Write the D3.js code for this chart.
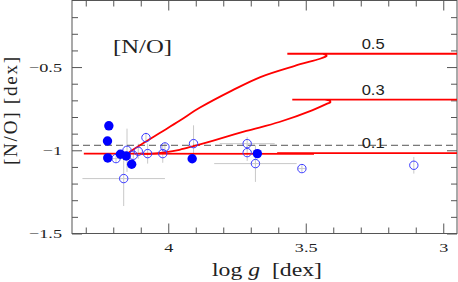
<!DOCTYPE html>
<html>
<head>
<meta charset="utf-8">
<script src="https://cdn.jsdelivr.net/npm/d3@7"></script>
<style>
body { margin: 0; background: #fff; }
svg { display: block; }
.axis path { display: none; }
.axis line { stroke: #555; }
.axis text { font-family: "Liberation Serif", serif; font-size: 13.5px; fill: #222; }
.err { stroke: #c8c8c8; stroke-width: 1; }
.track { fill: none; stroke: #ff0000; stroke-width: 1.8; }
.tlabel { font-family: "Liberation Sans", sans-serif; font-size: 14px; fill: #222; text-anchor: middle; }
.title { font-family: "Liberation Serif", serif; font-size: 19px; fill: #222; white-space: pre; }
</style>
</head>
<body>
<svg width="458" height="282"></svg>
<script>
// stars with filled symbols
var filledLogg = [4.216, 4.221, 4.22, 4.174, 4.153, 4.133, 3.913, 3.676];
var filledNO   = [-0.853, -0.944, -1.046, -1.024, -1.034, -1.084, -1.051, -1.02];

// stars with open symbols and their error bars
var openLogg    = [4.081, 4.15, 4.19, 4.127, 4.109, 4.075, 4.02, 4.012, 3.908, 4.162, 3.713, 3.713, 3.683, 3.514, 3.107];
var openNO      = [-0.924, -1.0, -1.05, -1.03, -1.006, -1.02, -1.02, -0.98, -0.96, -1.17, -0.96, -1.014, -1.08, -1.11, -1.09];
var openErrLogg = [0, 0, 0.02, 0, 0, 0, 0, 0, 0, 0.15, 0.1, 0, 0.15, 0.015, 0];
var openErrNO   = [0.03, 0.13, 0.02, 0.02, 0.045, 0.06, 0.055, 0.03, 0.11, 0.165, 0.04, 0.05, 0.11, 0.02, 0.05];

// model tracks [logg, N/O]
var track05 = [[4.147, -1.02], [4.134, -1.003], [4.086, -0.952], [4.031, -0.896], [3.959, -0.823],
  [3.886, -0.745], [3.767, -0.64], [3.665, -0.56], [3.542, -0.494], [3.448, -0.45], [3.43, -0.439],
  [3.424, -0.433], [3.437, -0.421], [3.459, -0.42], [3.567, -0.42], [2.95, -0.42]];
var track03 = [[4.104, -1.02], [4.067, -1.021], [4.013, -1.012], [3.959, -0.997], [3.904, -0.973],
  [3.839, -0.943], [3.716, -0.884], [3.596, -0.83], [3.477, -0.76], [3.422, -0.72], [3.41, -0.71],
  [3.415, -0.70], [3.43, -0.696], [3.549, -0.696], [2.95, -0.696]];
var track01 = [[4.307, -1.02], [3.47, -1.022], [3.604, -1.017], [2.95, -1.017]];
var trackNames = ["0.5", "0.3", "0.1"];
var labelLogg = 3.255;

var solarNO = -0.97;

var xMajorTicks = [4, 3.5, 3],
    xTickLabels = ["4", "3.5", "3"];
var yMajorTicks = [-0.5, -1, -1.5],
    yTickLabels = ["\u22120.5", "\u22121", "\u22121.5"];

var svg = d3.select("svg"),
    margin = {top: 0.5, right: 1, bottom: 48.5, left: 72},
    width = +svg.attr("width") - margin.left - margin.right,
    height = +svg.attr("height") - margin.top - margin.bottom;

var x = d3.scaleLinear().domain([4.35, 2.95]).range([0, width]),
    y = d3.scaleLinear().domain([-1.5, -0.1]).range([height, 0]);

var chart = svg.append("g")
    .attr("transform", "translate(" + margin.left + "," + margin.top + ")");

// the figure is stretched sideways, so are its glyphs
var stretch = 1.35;

// minor ticks every 0.1
var xMinor = d3.range(43, 29, -1).map(function(d) { return d / 10; })
    .filter(function(d) { return xMajorTicks.indexOf(d) < 0; });
var yMinor = d3.range(-14, -1).map(function(d) { return d / 10; })
    .filter(function(d) { return yMajorTicks.indexOf(d) < 0; });

// axes on all four sides, ticks pointing in
chart.append("g").attr("class", "axis")
    .attr("transform", "translate(0," + height + ")")
    .call(d3.axisBottom(x).tickValues(xMinor).tickSize(-6).tickFormat(""));
chart.append("g").attr("class", "axis")
    .attr("transform", "translate(0," + height + ")")
    .call(d3.axisBottom(x).tickValues(xMajorTicks).tickSize(-10).tickPadding(9)
      .tickFormat(function(d, i) { return xTickLabels[i]; }))
  .selectAll("text")
    .attr("transform", "scale(" + stretch + ",1)");
chart.append("g").attr("class", "axis")
    .call(d3.axisTop(x).tickValues(xMinor).tickSize(-6).tickFormat(""));
chart.append("g").attr("class", "axis")
    .call(d3.axisTop(x).tickValues(xMajorTicks).tickSize(-10).tickFormat(""));

chart.append("g").attr("class", "axis")
    .call(d3.axisLeft(y).tickValues(yMinor).tickSize(-6).tickFormat(""));
chart.append("g").attr("class", "axis")
    .call(d3.axisLeft(y).tickValues(yMajorTicks).tickSize(-10).tickPadding(10)
      .tickFormat(function(d, i) { return yTickLabels[i]; }))
  .selectAll("text")
    .attr("x", -10 / stretch)
    .attr("transform", "scale(" + stretch + ",1)");
chart.append("g").attr("class", "axis")
    .attr("transform", "translate(" + width + ",0)")
    .call(d3.axisRight(y).tickValues(yMinor).tickSize(-6).tickFormat(""));
chart.append("g").attr("class", "axis")
    .attr("transform", "translate(" + width + ",0)")
    .call(d3.axisRight(y).tickValues(yMajorTicks).tickSize(-10).tickFormat(""));

// frame
chart.append("rect")
    .attr("width", width)
    .attr("height", height)
    .attr("fill", "none")
    .attr("stroke", "#555");

// error bars
var idx = d3.range(openLogg.length);
var errs = chart.append("g");
errs.selectAll(".ev").data(idx).enter().append("line")
    .attr("class", "err")
    .attr("x1", function(i) { return x(openLogg[i]); })
    .attr("x2", function(i) { return x(openLogg[i]); })
    .attr("y1", function(i) { return y(openNO[i] - openErrNO[i]); })
    .attr("y2", function(i) { return y(openNO[i] + openErrNO[i]); });
errs.selectAll(".eh").data(idx).enter().append("line")
    .attr("class", "err")
    .attr("x1", function(i) { return x(openLogg[i] - openErrLogg[i]); })
    .attr("x2", function(i) { return x(openLogg[i] + openErrLogg[i]); })
    .attr("y1", function(i) { return y(openNO[i]); })
    .attr("y2", function(i) { return y(openNO[i]); });

// reference level
chart.append("line")
    .attr("x1", 0).attr("x2", width)
    .attr("y1", y(solarNO)).attr("y2", y(solarNO))
    .attr("stroke", "#555")
    .attr("stroke-dasharray", "7,4");

// tracks, smoothed where they bend
var smooth = d3.line()
    .curve(d3.curveCatmullRom.alpha(0.5))
    .x(function(d) { return x(d[0]); })
    .y(function(d) { return y(d[1]); });
var straight = d3.line()
    .x(function(d) { return x(d[0]); })
    .y(function(d) { return y(d[1]); });
var tracks = [track05, track03, track01];
chart.selectAll(".track").data(tracks).enter().append("path")
    .attr("class", "track")
    .attr("d", function(d, i) { return i < 2 ? smooth(d) : straight(d); });

chart.selectAll(".tlabel").data(tracks).enter().append("text")
    .attr("class", "tlabel")
    .attr("x", x(labelLogg))
    .attr("y", function(d) { return y(d[d.length - 1][1]); })
    .attr("dy", -5)
    .attr("textLength", 23)
    .attr("lengthAdjust", "spacingAndGlyphs")
    .text(function(d, i) { return trackNames[i]; });

// open symbols
chart.selectAll(".open").data(idx).enter().append("circle")
    .attr("class", "open")
    .attr("cx", function(i) { return x(openLogg[i]); })
    .attr("cy", function(i) { return y(openNO[i]); })
    .attr("r", 4.2)
    .attr("fill", "none")
    .attr("stroke", "#3a3aff")
    .attr("stroke-width", 1);

// filled symbols
chart.selectAll(".filled").data(filledLogg).enter().append("circle")
    .attr("class", "filled")
    .attr("cx", function(d) { return x(d); })
    .attr("cy", function(d, i) { return y(filledNO[i]); })
    .attr("r", 4.7)
    .attr("fill", "#0000ff");

// panel label
chart.append("text")
    .attr("class", "title")
    .attr("x", 41)
    .attr("y", 52)
    .attr("font-size", "21px")
    .attr("textLength", 59)
    .attr("lengthAdjust", "spacingAndGlyphs")
    .text("[N/O]");

// axis titles
var xt = svg.append("text")
    .attr("class", "title")
    .attr("x", 212)
    .attr("y", 276)
    .attr("textLength", 110)
    .attr("lengthAdjust", "spacingAndGlyphs");
xt.append("tspan").text("log ");
xt.append("tspan").attr("font-style", "italic").text("g");
xt.append("tspan").text("  [dex]");

svg.append("text")
    .attr("class", "title")
    .attr("transform", "translate(17,165) rotate(-90)")
    .attr("font-size", "20px")
    .attr("textLength", 108)
    .text("[N/O] [dex]");
</script>
</body>
</html>
